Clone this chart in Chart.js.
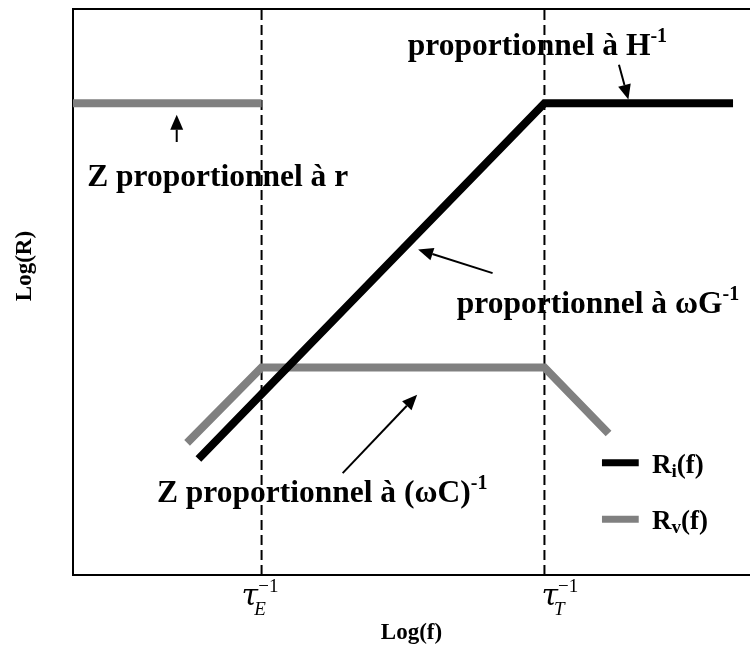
<!DOCTYPE html>
<html>
<head>
<meta charset="utf-8">
<script src="https://cdn.jsdelivr.net/npm/chart.js@4.4.1/dist/chart.umd.min.js"></script>
<style>
  html, body { margin: 0; padding: 0; background: #fff; }
</style>
</head>
<body>
<canvas id="chart" width="750" height="646"></canvas>
<script>
// values, in Log(f) / Log(R) units
const riX = [1.33, 5, 7];
const riY = [1.23, 5, 5];
const rvHighX = [0, 2];
const rvHighY = [5, 5];
const rvLowX = [1.21, 2, 5, 5.68];
const rvLowY = [1.40, 2.2, 2.2, 1.5];
const cornerX = [2, 5];
const xRange = [0, 7.18];
const yRange = [0, 6];

const tickLabels = [["τ", "E", "−1"], ["τ", "T", "−1"]];
const seriesNames = [["R", "i", "(f)"], ["R", "v", "(f)"]];

const noteText = [
  ["proportionnel à H", "-1"],
  ["Z proportionnel à r", ""],
  ["proportionnel à ωG", "-1"],
  ["Z proportionnel à (ωC)", "-1"]
];
// where each note starts (text baseline), data units
const noteX = [3.55, 0.15, 4.07, 0.89];
const noteY = [5.51, 4.12, 2.78, 0.77];
// arrows: from -> to, data units
const arrowFrom = [[5.79, 5.41], [1.10, 4.59], [4.45, 3.20], [2.86, 1.08]];
const arrowTo = [[5.89, 5.04], [1.10, 4.88], [3.66, 3.45], [3.65, 1.91]];

const BLACK = '#000000';
const GREY = '#808080';
const SERIF = "'Liberation Serif', 'Times New Roman', serif";

function pts(xs, ys) {
  return xs.map((x, i) => ({ x: x, y: ys[i] }));
}

function line(data, color, width) {
  return {
    data: data,
    borderColor: color,
    borderWidth: width,
    pointRadius: 0,
    tension: 0,
    borderCapStyle: 'butt',
    borderJoinStyle: 'miter'
  };
}

// draws a run of text pieces: [text, font, baseline shift]
function rich(ctx, x, y, pieces) {
  pieces.forEach(p => {
    if (!p[0]) return;
    ctx.font = p[1];
    ctx.fillText(p[0], x, y + p[2]);
    x += ctx.measureText(p[0]).width;
  });
}

function arrow(ctx, x1, y1, x2, y2) {
  const ang = Math.atan2(y2 - y1, x2 - x1);
  const len = 15, half = 6.5;
  const bx = x2 - len * Math.cos(ang), by = y2 - len * Math.sin(ang);
  ctx.lineWidth = 2;
  ctx.beginPath();
  ctx.moveTo(x1, y1);
  ctx.lineTo(bx, by);
  ctx.stroke();
  ctx.beginPath();
  ctx.moveTo(x2, y2);
  ctx.lineTo(bx + half * Math.sin(ang), by - half * Math.cos(ang));
  ctx.lineTo(bx - half * Math.sin(ang), by + half * Math.cos(ang));
  ctx.closePath();
  ctx.fill();
}

const decor = {
  id: 'decor',
  afterDraw(chart) {
    const ctx = chart.ctx;
    const a = chart.chartArea;
    const xs = chart.scales.x, ys = chart.scales.y;
    ctx.save();
    ctx.fillStyle = BLACK;
    ctx.strokeStyle = BLACK;
    ctx.textBaseline = 'alphabetic';
    ctx.textAlign = 'left';

    // top edge of the frame
    ctx.lineWidth = 2;
    ctx.beginPath();
    ctx.moveTo(a.left, a.top);
    ctx.lineTo(a.right, a.top);
    ctx.stroke();

    // notes with their arrows
    noteText.forEach((n, i) => {
      rich(ctx, xs.getPixelForValue(noteX[i]), ys.getPixelForValue(noteY[i]), [
        [n[0], 'bold 31.5px ' + SERIF, 0],
        [n[1], 'bold 20px ' + SERIF, -13]
      ]);
    });
    arrowFrom.forEach((f, i) => {
      arrow(ctx, xs.getPixelForValue(f[0]), ys.getPixelForValue(f[1]),
        xs.getPixelForValue(arrowTo[i][0]), ys.getPixelForValue(arrowTo[i][1]));
    });

    // legend
    const colors = [BLACK, GREY];
    const legY = [1.19, 0.59];
    seriesNames.forEach((s, i) => {
      const yy = ys.getPixelForValue(legY[i]);
      ctx.strokeStyle = colors[i];
      ctx.lineWidth = 7;
      ctx.beginPath();
      ctx.moveTo(xs.getPixelForValue(5.61), yy);
      ctx.lineTo(xs.getPixelForValue(6.0), yy);
      ctx.stroke();
      rich(ctx, xs.getPixelForValue(6.14), yy + 10, [
        [s[0], 'bold 27px ' + SERIF, 0],
        [s[1], 'bold 19px ' + SERIF, 4],
        [s[2], 'bold 27px ' + SERIF, 0]
      ]);
    });

    // corner frequency labels under the axis
    const shift = [-20, -3];
    tickLabels.forEach((t, i) => {
      const x0 = xs.getPixelForValue(cornerX[i]) + shift[i];
      const base = a.bottom + 30;
      ctx.font = "italic 30px 'DejaVu Serif', serif";
      ctx.fillText(t[0], x0, base);
      const w = ctx.measureText(t[0]).width;
      ctx.font = 'italic 19px ' + SERIF;
      ctx.fillText(t[1], x0 + w - 4, base + 10);
      ctx.font = '19px ' + SERIF;
      ctx.fillText(t[2], x0 + w, base - 13);
    });

    // axis titles
    ctx.font = 'bold 23px ' + SERIF;
    ctx.textAlign = 'center';
    ctx.fillText('Log(f)', (a.left + a.right) / 2, a.bottom + 64);
    ctx.translate(25, 266);
    ctx.rotate(-Math.PI / 2);
    ctx.textBaseline = 'middle';
    ctx.fillText('Log(R)', 0, 0);
    ctx.restore();
  }
};

const dashed = cornerX.map(cx => Object.assign(
  line([{ x: cx, y: yRange[0] }, { x: cx, y: yRange[1] }], BLACK, 2),
  { borderDash: [10, 5] }
));

new Chart(document.getElementById('chart'), {
  type: 'line',
  data: {
    datasets: [
      line(pts(riX, riY), BLACK, 8),
      line(pts(rvLowX, rvLowY), GREY, 8),
      line(pts(rvHighX, rvHighY), GREY, 8)
    ].concat(dashed)
  },
  options: {
    responsive: false,
    devicePixelRatio: 1,
    animation: false,
    layout: { autoPadding: false, padding: { left: 73, top: 9, right: 0, bottom: 71 } },
    plugins: { legend: { display: false }, tooltip: { enabled: false } },
    scales: {
      x: {
        type: 'linear', min: xRange[0], max: xRange[1],
        grid: { display: false },
        border: { display: true, color: BLACK, width: 2 },
        ticks: { display: false },
        afterFit(s) { s.height = 0; }
      },
      y: {
        type: 'linear', min: yRange[0], max: yRange[1],
        grid: { display: false },
        border: { display: true, color: BLACK, width: 2 },
        ticks: { display: false },
        afterFit(s) { s.width = 0; }
      }
    }
  },
  plugins: [decor]
});
</script>
</body>
</html>
